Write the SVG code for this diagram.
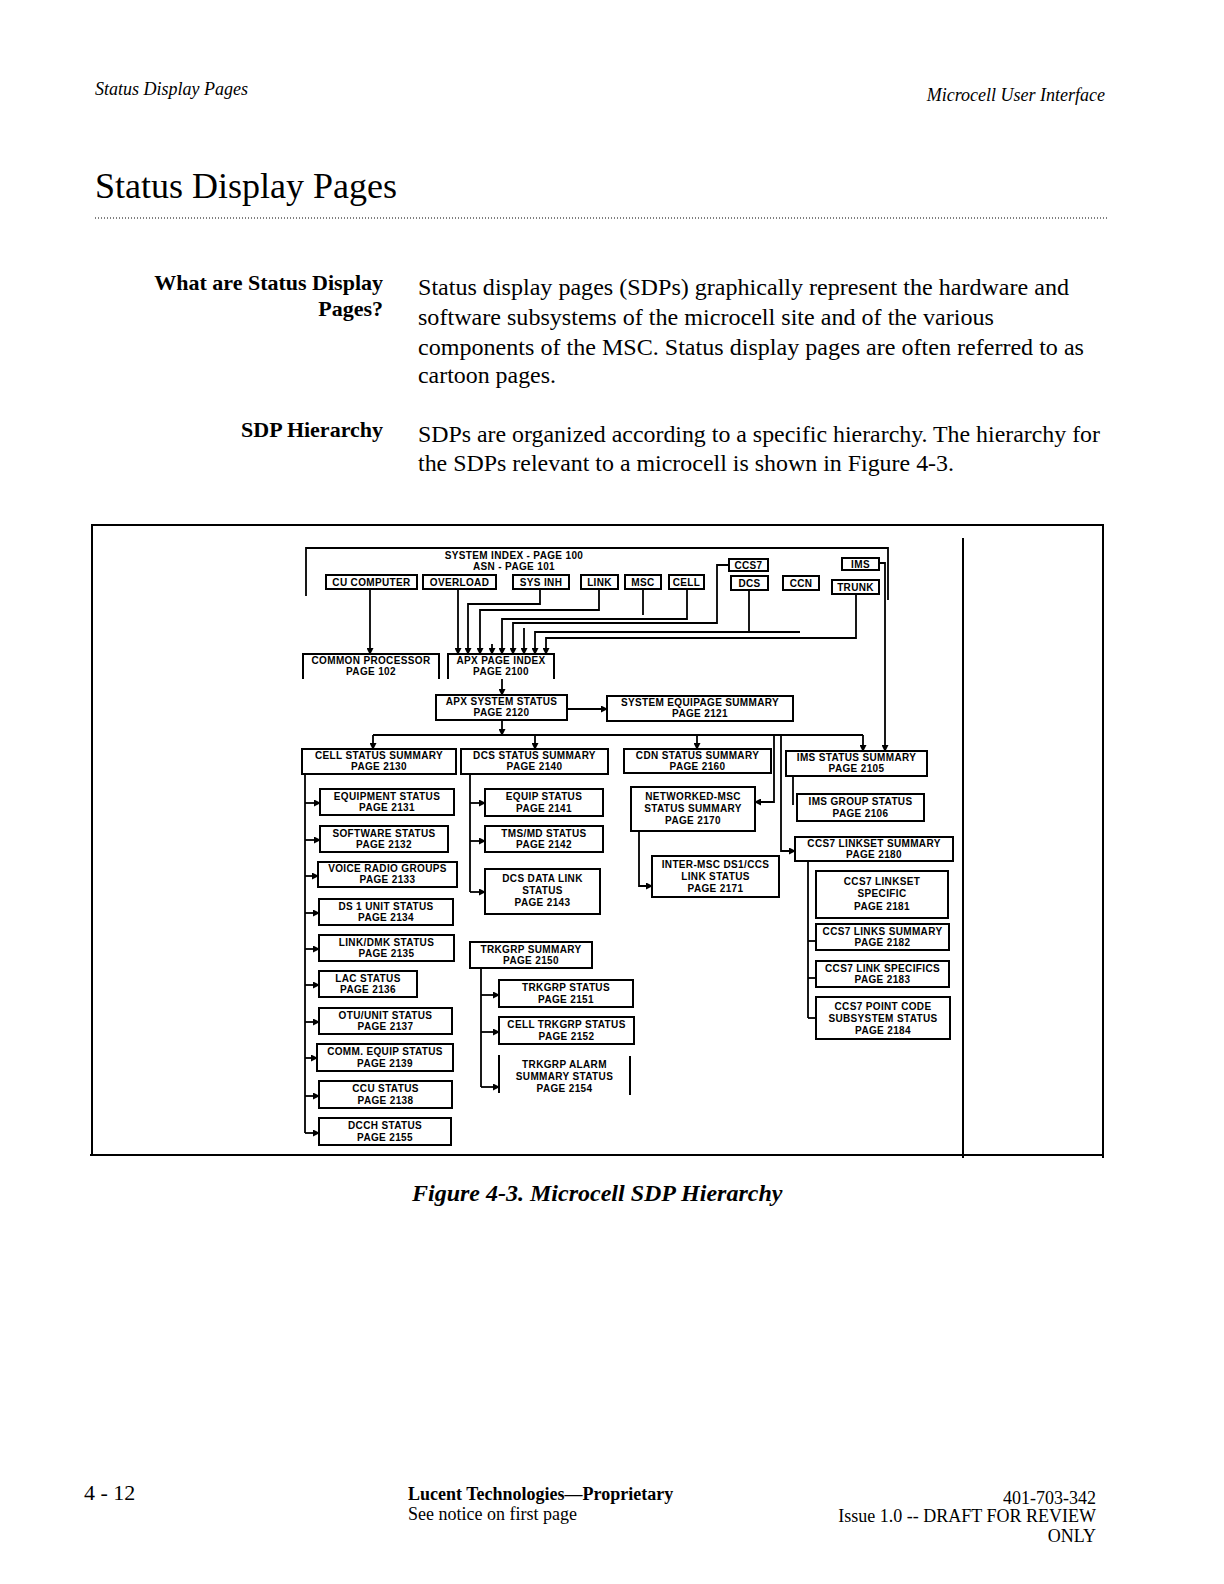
<svg xmlns="http://www.w3.org/2000/svg" width="1224" height="1584" viewBox="0 0 1224 1584">
<style>
.pg{font-family:"Liberation Serif","Times New Roman",serif;fill:#000}
.hd{font-size:18px;font-style:italic}
.ttl{font-size:36px}
.bd{font-size:23.5px}
.bb{font-size:22px;font-weight:bold;text-anchor:end}
.cap{font-size:24px;font-weight:bold;font-style:italic}
.ft{font-size:18px}
.box{fill:#fff;stroke:#000;stroke-width:2}
.open{fill:none;stroke:#000;stroke-width:2}
.t{font-family:"Liberation Sans",Arial,sans-serif;font-size:10px;font-weight:bold;letter-spacing:0.35px;text-anchor:middle;fill:#000}
.ln{fill:none;stroke:#000;stroke-width:1.8}
.ar{fill:none;stroke:#000;stroke-width:1.8;marker-end:url(#ah)}
.fr{fill:none;stroke:#000;stroke-width:2}
</style>
<defs>
<marker id="ah" markerUnits="userSpaceOnUse" markerWidth="7" markerHeight="7" refX="6" refY="3.5" orient="auto">
<path d="M0,0 L7,3.5 L0,7 z" fill="#000"/>
</marker>
</defs>
<rect width="1224" height="1584" fill="#fff"/>

<!-- page text -->
<g id="page-text" class="pg">
<text class="hd" x="95" y="95">Status Display Pages</text>
<text class="hd" x="1105" y="101" text-anchor="end">Microcell User Interface</text>
<text class="ttl" x="95" y="198">Status Display Pages</text>
<line x1="95" y1="218" x2="1108" y2="218" stroke="#000" stroke-width="1" stroke-dasharray="1,2"/>
<text class="bb" x="383" y="290">What are Status Display</text>
<text class="bb" x="383" y="316">Pages?</text>
<text class="bd" x="418" y="295" textLength="651" lengthAdjust="spacingAndGlyphs">Status display pages (SDPs) graphically represent the hardware and</text>
<text class="bd" x="418" y="325" textLength="576" lengthAdjust="spacingAndGlyphs">software subsystems of the microcell site and of the various</text>
<text class="bd" x="418" y="355" textLength="666" lengthAdjust="spacingAndGlyphs">components of the MSC. Status display pages are often referred to as</text>
<text class="bd" x="418" y="383" textLength="138" lengthAdjust="spacingAndGlyphs">cartoon pages.</text>
<text class="bb" x="383" y="437">SDP Hierarchy</text>
<text class="bd" x="418" y="442" textLength="682" lengthAdjust="spacingAndGlyphs">SDPs are organized according to a specific hierarchy. The hierarchy for</text>
<text class="bd" x="418" y="471" textLength="536" lengthAdjust="spacingAndGlyphs">the SDPs relevant to a microcell is shown in Figure 4-3.</text>
<text class="cap" x="412" y="1201">Figure 4-3.  Microcell SDP Hierarchy</text>
<text class="pg" x="84" y="1500" font-size="22">4 - 12</text>
<text class="ft" x="408" y="1500" font-weight="bold">Lucent Technologies—Proprietary</text>
<text class="ft" x="408" y="1520">See notice on first page</text>
<text class="ft" x="1096" y="1504" text-anchor="end">401-703-342</text>
<text class="ft" x="1096" y="1522" text-anchor="end">Issue 1.0 -- DRAFT FOR REVIEW</text>
<text class="ft" x="1096" y="1542" text-anchor="end">ONLY</text>
</g>

<!-- figure frame -->
<g id="frame">
<path class="fr" d="M92,1155 V525 H1103 V1158"/>
<path class="fr" d="M90,1155 H1103"/>
<path class="fr" d="M963,538 V1158"/>
</g>

<!-- top bracket / system index -->
<g id="n_sysindex">
<path class="ln" d="M306,596 V548 H888 V600"/>
<text class="t" x="514" y="559">SYSTEM INDEX - PAGE 100</text>
<text class="t" x="514" y="570">ASN - PAGE 101</text>
</g>

<g id="n_cu"><rect class="box" x="326" y="575" width="91" height="14"/><text class="t" x="371.5" y="586">CU COMPUTER</text></g>
<g id="n_overload"><rect class="box" x="423" y="575" width="73" height="14"/><text class="t" x="459.5" y="586">OVERLOAD</text></g>
<g id="n_sysinh"><rect class="box" x="513" y="575" width="56" height="14"/><text class="t" x="541" y="586">SYS INH</text></g>
<g id="n_link"><rect class="box" x="581" y="575" width="37" height="14"/><text class="t" x="599.5" y="586">LINK</text></g>
<g id="n_msc"><rect class="box" x="625" y="575" width="36" height="14"/><text class="t" x="643" y="586">MSC</text></g>
<g id="n_cell"><rect class="box" x="669" y="575" width="35" height="14"/><text class="t" x="686.5" y="586">CELL</text></g>
<g id="n_ccs7"><rect class="box" x="729" y="559" width="39" height="12"/><text class="t" x="748.5" y="569">CCS7</text></g>
<g id="n_dcs"><rect class="box" x="731" y="576" width="37" height="14"/><text class="t" x="749.5" y="587">DCS</text></g>
<g id="n_ccn"><rect class="box" x="783" y="576" width="36" height="14"/><text class="t" x="801" y="587">CCN</text></g>
<g id="n_trunk"><rect class="box" x="832" y="580" width="47" height="14"/><text class="t" x="855.5" y="591">TRUNK</text></g>
<g id="n_ims"><rect class="box" x="842" y="558" width="37" height="12"/><text class="t" x="860.5" y="568">IMS</text></g>

<g id="n_cp"><path class="open" d="M303,679 V654 H439 V679"/><text class="t" x="371" y="664">COMMON PROCESSOR</text><text class="t" x="371" y="675">PAGE 102</text></g>
<g id="n_apxidx"><path class="open" d="M448,679 V654 H554 V679"/><text class="t" x="501" y="664">APX PAGE INDEX</text><text class="t" x="501" y="675">PAGE 2100</text></g>
<g id="n_apxsys"><rect class="box" x="436" y="695" width="131" height="25"/><text class="t" x="501.5" y="705">APX SYSTEM STATUS</text><text class="t" x="501.5" y="716">PAGE 2120</text></g>
<g id="n_equipage"><rect class="box" x="607" y="696" width="186" height="25"/><text class="t" x="700" y="706">SYSTEM EQUIPAGE SUMMARY</text><text class="t" x="700" y="717">PAGE 2121</text></g>

<g id="n_cellsum"><rect class="box" x="302" y="749" width="154" height="25"/><text class="t" x="379" y="759">CELL STATUS SUMMARY</text><text class="t" x="379" y="770">PAGE 2130</text></g>
<g id="n_dcssum"><rect class="box" x="461" y="749" width="147" height="25"/><text class="t" x="534.5" y="759">DCS STATUS SUMMARY</text><text class="t" x="534.5" y="770">PAGE 2140</text></g>
<g id="n_cdnsum"><rect class="box" x="624" y="749" width="147" height="24"/><text class="t" x="697.5" y="759">CDN STATUS SUMMARY</text><text class="t" x="697.5" y="770">PAGE 2160</text></g>
<g id="n_imssum"><rect class="box" x="786" y="751" width="141" height="25"/><text class="t" x="856.5" y="761">IMS STATUS SUMMARY</text><text class="t" x="856.5" y="772">PAGE 2105</text></g>

<!-- cell children -->
<g id="n_equipment"><rect class="box" x="320" y="789" width="134" height="26"/><text class="t" x="387" y="800">EQUIPMENT STATUS</text><text class="t" x="387" y="811">PAGE 2131</text></g>
<g id="n_software"><rect class="box" x="320" y="826" width="128" height="26"/><text class="t" x="384" y="837">SOFTWARE STATUS</text><text class="t" x="384" y="848">PAGE 2132</text></g>
<g id="n_voice"><rect class="box" x="318" y="862" width="139" height="25"/><text class="t" x="387.5" y="872">VOICE RADIO GROUPS</text><text class="t" x="387.5" y="883">PAGE 2133</text></g>
<g id="n_ds1"><rect class="box" x="319" y="899" width="134" height="26"/><text class="t" x="386" y="910">DS 1 UNIT STATUS</text><text class="t" x="386" y="921">PAGE 2134</text></g>
<g id="n_linkdmk"><rect class="box" x="319" y="935" width="135" height="26"/><text class="t" x="386.5" y="946">LINK/DMK STATUS</text><text class="t" x="386.5" y="957">PAGE 2135</text></g>
<g id="n_lac"><rect class="box" x="319" y="971" width="98" height="26"/><text class="t" x="368" y="982">LAC STATUS</text><text class="t" x="368" y="993">PAGE 2136</text></g>
<g id="n_otu"><rect class="box" x="319" y="1008" width="133" height="26"/><text class="t" x="385.5" y="1019">OTU/UNIT STATUS</text><text class="t" x="385.5" y="1030">PAGE 2137</text></g>
<g id="n_comm"><rect class="box" x="317" y="1044" width="136" height="27"/><text class="t" x="385" y="1055">COMM. EQUIP STATUS</text><text class="t" x="385" y="1067">PAGE 2139</text></g>
<g id="n_ccu"><rect class="box" x="319" y="1081" width="133" height="27"/><text class="t" x="385.5" y="1092">CCU STATUS</text><text class="t" x="385.5" y="1104">PAGE 2138</text></g>
<g id="n_dcch"><rect class="box" x="319" y="1118" width="132" height="27"/><text class="t" x="385" y="1129">DCCH STATUS</text><text class="t" x="385" y="1141">PAGE 2155</text></g>

<!-- dcs children -->
<g id="n_dcsequip"><rect class="box" x="485" y="789" width="118" height="27"/><text class="t" x="544" y="800">EQUIP STATUS</text><text class="t" x="544" y="812">PAGE 2141</text></g>
<g id="n_tmsmd"><rect class="box" x="485" y="826" width="118" height="26"/><text class="t" x="544" y="837">TMS/MD STATUS</text><text class="t" x="544" y="848">PAGE 2142</text></g>
<g id="n_dcsdata"><rect class="box" x="485" y="869" width="115" height="45"/><text class="t" x="542.5" y="882">DCS DATA LINK</text><text class="t" x="542.5" y="894">STATUS</text><text class="t" x="542.5" y="906">PAGE 2143</text></g>

<!-- trunk group -->
<g id="n_trksum"><rect class="box" x="470" y="942" width="122" height="26"/><text class="t" x="531" y="953">TRKGRP SUMMARY</text><text class="t" x="531" y="964">PAGE 2150</text></g>
<g id="n_trkstat"><rect class="box" x="499" y="980" width="134" height="27"/><text class="t" x="566" y="991">TRKGRP STATUS</text><text class="t" x="566" y="1003">PAGE 2151</text></g>
<g id="n_celltrk"><rect class="box" x="499" y="1017" width="135" height="27"/><text class="t" x="566.5" y="1028">CELL TRKGRP STATUS</text><text class="t" x="566.5" y="1040">PAGE 2152</text></g>
<g id="n_trkalarm"><path class="open" d="M499,1055 V1093 M630,1056 V1095"/><text class="t" x="564.5" y="1068">TRKGRP ALARM</text><text class="t" x="564.5" y="1080">SUMMARY STATUS</text><text class="t" x="564.5" y="1092">PAGE 2154</text></g>

<!-- cdn children -->
<g id="n_netmsc"><rect class="box" x="631" y="787" width="124" height="44"/><text class="t" x="693" y="800">NETWORKED-MSC</text><text class="t" x="693" y="812">STATUS SUMMARY</text><text class="t" x="693" y="824">PAGE 2170</text></g>
<g id="n_intermsc"><rect class="box" x="652" y="856" width="127" height="41"/><text class="t" x="715.5" y="868">INTER-MSC DS1/CCS</text><text class="t" x="715.5" y="880">LINK STATUS</text><text class="t" x="715.5" y="892">PAGE 2171</text></g>

<!-- ims children -->
<g id="n_imsgroup"><rect class="box" x="797" y="794" width="127" height="27"/><text class="t" x="860.5" y="805">IMS GROUP STATUS</text><text class="t" x="860.5" y="817">PAGE 2106</text></g>

<!-- ccs7 children -->
<g id="n_lssum"><rect class="box" x="795" y="837" width="158" height="24"/><text class="t" x="874" y="847">CCS7 LINKSET SUMMARY</text><text class="t" x="874" y="858">PAGE 2180</text></g>
<g id="n_lsspec"><rect class="box" x="816" y="871" width="132" height="47"/><text class="t" x="882" y="885">CCS7 LINKSET</text><text class="t" x="882" y="897">SPECIFIC</text><text class="t" x="882" y="910">PAGE 2181</text></g>
<g id="n_lksum"><rect class="box" x="816" y="924" width="133" height="26"/><text class="t" x="882.5" y="935">CCS7 LINKS SUMMARY</text><text class="t" x="882.5" y="946">PAGE 2182</text></g>
<g id="n_lkspec"><rect class="box" x="816" y="961" width="133" height="26"/><text class="t" x="882.5" y="972">CCS7 LINK SPECIFICS</text><text class="t" x="882.5" y="983">PAGE 2183</text></g>
<g id="n_pcss"><rect class="box" x="816" y="997" width="134" height="42"/><text class="t" x="883" y="1010">CCS7 POINT CODE</text><text class="t" x="883" y="1022">SUBSYSTEM STATUS</text><text class="t" x="883" y="1034">PAGE 2184</text></g>

<!-- connectors -->
<g id="connectors">
<path class="ar" d="M370,589 V654"/>
<path class="ar" d="M458,589 V654"/>
<path class="ar" d="M540,589 V604 H468 V654"/>
<path class="ar" d="M599,589 V610 H480 V654"/>
<path class="ar" d="M492,644 V654"/>
<path class="ar" d="M687,589 V619 H502 V654"/>
<path class="ar" d="M729,565 H717 V623 H513 V654"/>
<path class="ar" d="M524,628 V654"/>
<path class="ln" d="M749,590 V632"/>
<path class="ar" d="M800,632 H535 V654"/>
<path class="ar" d="M856,594 V638 H546 V654"/>
<path class="ln" d="M643,589 V615"/>
<path class="ar" d="M879,563 H885 V751"/>
<path class="ar" d="M502,679 V695"/>
<path class="ar" d="M567,709 H607"/>
<path class="ar" d="M502,720 V735"/>
<path class="ln" d="M373,735 H863"/>
<path class="ar" d="M373,735 V749"/>
<path class="ar" d="M535,735 V749"/>
<path class="ar" d="M697,735 V749"/>
<path class="ar" d="M863,735 V751"/>
<path class="ar" d="M774,735 V802 H755"/>
<path class="ar" d="M781,735 V851 H795"/>
<!-- cell spine -->
<path class="ln" d="M305,774 V1133"/>
<path class="ar" d="M305,803 H320"/>
<path class="ar" d="M305,840 H320"/>
<path class="ar" d="M305,876 H318"/>
<path class="ar" d="M305,913 H319"/>
<path class="ar" d="M305,949 H319"/>
<path class="ar" d="M305,985 H319"/>
<path class="ar" d="M305,1022 H319"/>
<path class="ar" d="M305,1058 H317"/>
<path class="ar" d="M305,1096 H319"/>
<path class="ar" d="M305,1133 H319"/>
<!-- dcs spine -->
<path class="ln" d="M470,774 V892"/>
<path class="ar" d="M470,803 H485"/>
<path class="ar" d="M470,841 H485"/>
<path class="ar" d="M470,892 H485"/>
<!-- trkgrp spine -->
<path class="ln" d="M481,968 V1087"/>
<path class="ar" d="M481,995 H499"/>
<path class="ar" d="M481,1032 H499"/>
<path class="ar" d="M481,1087 H499"/>
<!-- cdn -->
<path class="ar" d="M639,831 V886 H652"/>
<!-- ims -->
<path class="ln" d="M793,776 V805"/>
<!-- ccs7 spine -->
<path class="ln" d="M808,861 V1018"/>
<path class="ln" d="M808,941 H816"/>
<path class="ln" d="M808,978 H816"/>
<path class="ln" d="M808,1018 H816"/>
</g>
</svg>
